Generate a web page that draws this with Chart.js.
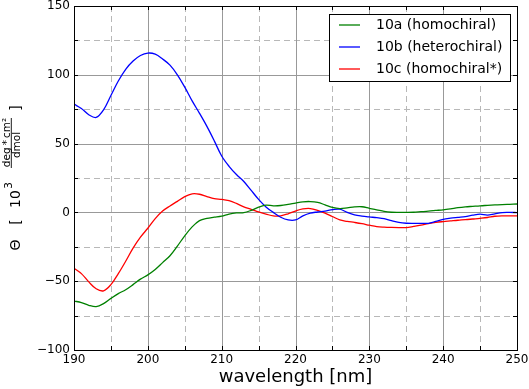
<!DOCTYPE html>
<html><head><meta charset="utf-8">
<script src="https://cdn.jsdelivr.net/npm/chart.js@4.4.0/dist/chart.umd.min.js"></script>
<style>html,body{margin:0;padding:0;background:#fff;}#wrap{width:529px;height:389px;}</style>
</head><body><div id="wrap"><canvas id="c" width="529" height="389"></canvas></div>
<script>
const wavelengths = [190,191,192,193,194,195,196,197,198,199,200,201,202,203,204,205,206,207,208,209,210,211,212,213,214,215,216,217,218,219,220,221,222,223,224,225,226,227,228,229,230,231,232,233,234,235,236,237,238,239,240,241,242,243,244,245,246,247,248,249,250];
const series10a = [-64.4,-65.5,-67.5,-68.5,-66.3,-62.5,-59,-56.2,-52.5,-48.5,-45.4,-41.5,-36.5,-31.5,-24.5,-17,-10.5,-6,-4.3,-3.5,-2.7,-1.2,-0.4,-0.2,1.5,3.8,5.3,4.8,5,5.8,6.8,7.7,7.9,7.3,5.5,3.6,2.8,3.3,4,4.1,3,1.9,0.7,0.1,0,0,0.1,0.5,0.9,1.4,1.9,2.6,3.4,4,4.4,4.8,5.1,5.4,5.7,5.9,6.1];
const series10b = [78.7,75.5,71,69,74.5,85,95.5,104,110,114,115.8,115,111.5,107,100,91,81,72,62.5,52,41,33.5,27.5,22.5,16,9.5,4,0,-3.5,-5.5,-5.5,-2.5,-0.5,0.3,1,2,2.3,0,-1.8,-2.7,-3.3,-3.8,-4.5,-6,-7.3,-7.9,-8,-8,-7.9,-6.5,-5,-4.2,-3.6,-3,-2,-1.3,-2,-1,-0.1,0,-0.1];
const series10c = [-40.6,-44.5,-50.5,-55.5,-57,-52.5,-44.5,-35.5,-26,-18,-11.5,-4.5,1,4.7,8,11.5,13.5,13.2,11.5,10,9.5,8.5,6.5,4,2.2,0.3,-1.2,-2.6,-2.5,-1,1,2.5,2.8,1.5,-0.5,-3,-5.5,-6.5,-7.3,-8.2,-9.3,-10.3,-10.7,-10.9,-11,-11,-10.2,-9.3,-8.2,-7.3,-6.7,-6.2,-5.7,-5.3,-4.8,-4.3,-3.7,-2.8,-2.5,-2.5,-2.5];
const seriesNames = ['10a (homochiral)','10b (heterochiral)','10c (homochiral*)'];
const seriesColors = ['#008000','#0000ff','#ff0000'];
const xMajorTicks = [190,200,210,220,230,240,250];
const xMinorTicks = [195,205,215,225,235,245];
const yMajorTicks = [-100,-50,0,50,100,150];
const yMinorTicks = [-75,-25,25,75,125];

const FONT = "'DejaVu Sans', sans-serif";
const seriesValues = [series10a, series10b, series10c];
const datasets = seriesValues.map((vals, i) => ({
  label: seriesNames[i],
  data: wavelengths.map((w, j) => ({x: w, y: vals[j]})),
  borderColor: seriesColors[i],
  backgroundColor: seriesColors[i],
  borderWidth: 1.3,
  pointRadius: 0,
  tension: 0.35,
  fill: false
}));

const custom = {
  id: 'custom',
  beforeDatasetsDraw(chart) {
    const {ctx, chartArea: a, scales: {x, y}} = chart;
    ctx.save();
    ctx.lineWidth = 1;
    ctx.strokeStyle = '#b8b8b8';
    ctx.setLineDash([6, 4]);
    xMinorTicks.forEach(v => { const p = Math.round(x.getPixelForValue(v)) + 0.5; ctx.beginPath(); ctx.moveTo(p, a.top); ctx.lineTo(p, a.bottom); ctx.stroke(); });
    yMinorTicks.forEach(v => { const p = Math.round(y.getPixelForValue(v)) + 0.5; ctx.beginPath(); ctx.moveTo(a.left, p); ctx.lineTo(a.right, p); ctx.stroke(); });
    ctx.setLineDash([]);
    ctx.strokeStyle = '#999999';
    xMajorTicks.forEach(v => { const p = Math.round(x.getPixelForValue(v)) + 0.5; ctx.beginPath(); ctx.moveTo(p, a.top); ctx.lineTo(p, a.bottom); ctx.stroke(); });
    yMajorTicks.forEach(v => { const p = Math.round(y.getPixelForValue(v)) + 0.5; ctx.beginPath(); ctx.moveTo(a.left, p); ctx.lineTo(a.right, p); ctx.stroke(); });
    ctx.restore();
  },
  afterDatasetsDraw(chart) {
    const {ctx, chartArea: a, scales: {x, y}} = chart;
    ctx.save();
    ctx.strokeStyle = '#000';
    ctx.lineWidth = 1;
    ctx.strokeRect(Math.round(a.left) + 0.5, Math.round(a.top) + 0.5, Math.round(a.right - a.left), Math.round(a.bottom - a.top));
    xMajorTicks.concat(xMinorTicks).forEach(v => { const p = Math.round(x.getPixelForValue(v)) + 0.5; ctx.beginPath(); ctx.moveTo(p, a.bottom); ctx.lineTo(p, a.bottom - 4); ctx.moveTo(p, a.top); ctx.lineTo(p, a.top + 4); ctx.stroke(); });
    yMajorTicks.concat(yMinorTicks).forEach(v => { const p = Math.round(y.getPixelForValue(v)) + 0.5; ctx.beginPath(); ctx.moveTo(a.left, p); ctx.lineTo(a.left + 4, p); ctx.moveTo(a.right, p); ctx.lineTo(a.right - 4, p); ctx.stroke(); });
    // legend
    const lx = 329.5, ly = 14.5, lw = 181, lh = 67;
    ctx.fillStyle = '#fff';
    ctx.fillRect(lx, ly, lw, lh);
    ctx.strokeStyle = '#000';
    ctx.strokeRect(lx, ly, lw, lh);
    ctx.font = '14px ' + FONT;
    ctx.textBaseline = 'middle';
    ctx.textAlign = 'left';
    const rows = [25, 47, 69];
    seriesNames.forEach((n, i) => {
      ctx.strokeStyle = seriesColors[i];
      ctx.lineWidth = 1.3;
      ctx.beginPath(); ctx.moveTo(339, rows[i]); ctx.lineTo(360, rows[i]); ctx.stroke();
      ctx.fillStyle = '#000';
      ctx.fillText(n, 376, rows[i] + 0.5);
    });
    // y label (rotated)
    ctx.rotate(-Math.PI / 2);
    ctx.fillStyle = '#000';
    ctx.textAlign = 'center';
    ctx.textBaseline = 'alphabetic';
    ctx.font = '14px ' + FONT;
    ctx.fillText('\u0398', -245, 19.5);
    ctx.fillText('[', -222, 19.5);
    ctx.fillText('10', -199, 19.5);
    ctx.fillText(']', -108, 19.5);
    ctx.font = '10.5px ' + FONT;
    ctx.fillText('3', -185.5, 12);
    ctx.fillText('deg\u2009*\u2009cm\u00B2', -142.5, 9.5);
    ctx.fillText('dmol', -145, 19.5);
    ctx.strokeStyle = '#000';
    ctx.lineWidth = 0.9;
    ctx.beginPath(); ctx.moveTo(-168, 11.3); ctx.lineTo(-118, 11.3); ctx.stroke();
    ctx.restore();
  }
};

new Chart(document.getElementById('c'), {
  type: 'line',
  data: {datasets},
  options: {
    responsive: false,
    animation: false,
    devicePixelRatio: 1,
    layout: {padding: {top: 6, right: 12, left: 0, bottom: 0}},
    plugins: {legend: {display: false}, tooltip: {enabled: false}},
    scales: {
      x: {
        type: 'linear', min: 190, max: 250,
        afterFit(s) { s.height = 39; s.paddingLeft = 0; s.paddingRight = 0; },
        grid: {display: false, drawTicks: false},
        border: {display: false},
        ticks: {stepSize: 10, autoSkip: false, maxRotation: 0, padding: 3, color: '#000', font: {family: FONT, size: 12}},
        title: {display: true, text: 'wavelength [nm]', color: '#000', font: {family: FONT, size: 18}, padding: {top: 0, bottom: 1}}
      },
      y: {
        min: -100, max: 150,
        afterFit(s) { s.width = 74; s.paddingTop = 0; s.paddingBottom = 0; },
        grid: {display: false, drawTicks: false},
        border: {display: false},
        ticks: {stepSize: 50, padding: 4, color: '#000', font: {family: FONT, size: 12},
          callback: v => String(v).replace('-', '\u2212')}
      }
    }
  },
  plugins: [custom]
});
</script></body></html>
